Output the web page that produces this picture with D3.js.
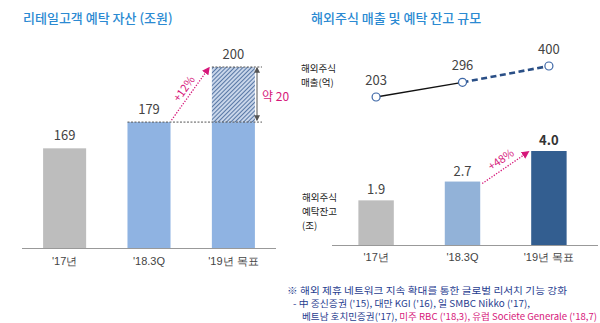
<!DOCTYPE html>
<html><head><meta charset="utf-8">
<script src="https://cdn.jsdelivr.net/npm/d3@7/dist/d3.min.js"></script>
<style>
body{margin:0;background:#fff;}
svg{display:block;font-family:"Noto Sans CJK KR","Noto Sans",sans-serif;}
</style></head><body>
<svg id="c" width="600" height="323"></svg>
<script>
const leftCategories = ["'17년", "'18.3Q", "'19년 목표"];
const leftValues = [169, 179, 200];
const rightCategories = ["'17년", "'18.3Q", "'19년 목표"];
const salesValues = [203, 296, 400];
const depositValues = [1.9, 2.7, 4.0];
const depositLabels = ["1.9", "2.7", "4.0"];

const svg = d3.select("#c");
const blueTitle = "#2b8ad2";
const magenta = "#d6177a";

const defs = svg.append("defs");
const pat = defs.append("pattern").attr("id","hatch").attr("patternUnits","userSpaceOnUse")
  .attr("width",3).attr("height",3).attr("patternTransform","rotate(45)");
pat.append("rect").attr("width",3).attr("height",3).attr("fill","#c9d6ea");
pat.append("line").attr("x1",0).attr("y1",0).attr("x2",0).attr("y2",3).attr("stroke","#3a5f93").attr("stroke-width",1.6);
function marker(id,color){
  defs.append("marker").attr("id",id).attr("viewBox","0 0 10 10").attr("refX",8).attr("refY",5)
   .attr("markerWidth",6).attr("markerHeight",6).attr("orient","auto-start-reverse")
   .append("path").attr("d","M0,0L10,5L0,10z").attr("fill",color);
}
marker("mag",magenta); marker("gry","#555");

svg.append("text").attr("x",23).attr("y",23).attr("font-size",13).attr("fill",blueTitle).attr("font-weight",500).text("리테일고객 예탁 자산 (조원)");
svg.append("text").attr("x",311).attr("y",23).attr("font-size",13).attr("fill",blueTitle).attr("font-weight",500).text("해외주식 매출 및 예탁 잔고 규모");

// ---- Left chart
const xL = d3.scaleBand().domain(leftCategories).range([22,276]).paddingInner(0.49).paddingOuter(0.25);
const yL = d3.scaleLinear().domain([131,200]).range([248,67]);
const leftColors = ["#bdbdbd","#8fb3e2","#8fb3e2"];
const gL = svg.append("g");
gL.selectAll("rect.b").data(leftValues).join("rect").attr("class","b")
  .attr("x",(d,i)=>xL(leftCategories[i])).attr("width",xL.bandwidth())
  .attr("y",(d,i)=> i===2 ? yL(leftValues[1]) : yL(d))
  .attr("height",(d,i)=> 248 - (i===2 ? yL(leftValues[1]) : yL(d)))
  .attr("fill",(d,i)=>leftColors[i]);
gL.append("rect").attr("x",xL(leftCategories[2])).attr("width",xL.bandwidth())
  .attr("y",yL(leftValues[2])).attr("height",yL(leftValues[1])-yL(leftValues[2]))
  .attr("fill","url(#hatch)");
gL.append("line").attr("x1",xL(leftCategories[1])).attr("x2",262).attr("y1",yL(leftValues[1])).attr("y2",yL(leftValues[1]))
  .attr("stroke","#555").attr("stroke-width",1).attr("stroke-dasharray","2,1.5");
gL.append("line").attr("x1",xL(leftCategories[2])).attr("x2",262).attr("y1",yL(leftValues[2])).attr("y2",yL(leftValues[2]))
  .attr("stroke","#555").attr("stroke-width",1).attr("stroke-dasharray","2,1.5");
const axL = d3.axisBottom(xL).tickSize(0).tickPadding(9);
const axLg = svg.append("g").attr("transform","translate(0,248)").call(axL);
axLg.select(".domain").attr("stroke","#999").attr("d","M22,0.5H276");
axLg.selectAll("text").attr("font-size",11).attr("fill","#444").attr("font-family","inherit");
gL.selectAll("text.v").data(leftValues).join("text").attr("class","v")
  .attr("x",(d,i)=>xL(leftCategories[i])+xL.bandwidth()/2).attr("y",d=>yL(d)-8)
  .attr("text-anchor","middle").attr("font-size",13).attr("fill","#444").text(d=>d);
const ax1 = xL(leftCategories[1])+xL.bandwidth()+1, ay1 = yL(leftValues[1])-2;
const ax2 = xL(leftCategories[2])-3, ay2 = yL(leftValues[2])+1;
gL.append("line").attr("x1",ax1).attr("y1",ay1).attr("x2",ax2).attr("y2",ay2)
  .attr("stroke",magenta).attr("stroke-width",1.3).attr("stroke-dasharray","1.3,1.5").attr("marker-end","url(#mag)");
const ang1 = Math.atan2(ay2-ay1, ax2-ax1)*180/Math.PI;
gL.append("text").attr("transform",`translate(${(ax1+ax2)/2-3},${(ay1+ay2)/2-3}) rotate(${ang1})`)
  .attr("text-anchor","middle").attr("font-size",11).attr("fill",magenta).text("+12%");
gL.append("line").attr("x1",257).attr("x2",257).attr("y1",yL(leftValues[2])+1).attr("y2",yL(leftValues[1])-2)
  .attr("stroke","#555").attr("stroke-width",1).attr("marker-start","url(#gry)").attr("marker-end","url(#gry)");
gL.append("text").attr("x",262).attr("y",101).attr("font-size",12).attr("fill",magenta).text("약 20");

// ---- Right chart
const xR = d3.scaleBand().domain(rightCategories).range([329,596]).paddingInner(0.59).paddingOuter(0.34);
const yR = d3.scaleLinear().domain([0,4]).range([245,151]);
const yS = d3.scaleLinear().domain([203,400]).range([97,66]);
const rightColors = ["#bdbdbd","#92b2d8","#335e90"];
const gR = svg.append("g");
gR.selectAll("rect").data(depositValues).join("rect")
  .attr("x",(d,i)=>xR(rightCategories[i])).attr("width",xR.bandwidth())
  .attr("y",d=>yR(d)).attr("height",d=>245-yR(d)).attr("fill",(d,i)=>rightColors[i]);
const axR = d3.axisBottom(xR).tickSize(0).tickPadding(8);
const axRg = svg.append("g").attr("transform","translate(0,245)").call(axR);
axRg.select(".domain").attr("stroke","#999").attr("d","M332,0.5H598");
axRg.selectAll("text").attr("font-size",11).attr("fill","#444").attr("font-family","inherit");
gR.selectAll("text.v").data(depositValues).join("text").attr("class","v")
  .attr("x",(d,i)=>xR(rightCategories[i])+xR.bandwidth()/2).attr("y",d=>yR(d)-6)
  .attr("text-anchor","middle").attr("font-size",13).attr("fill",(d,i)=>i===2?"#333":"#444")
  .attr("font-weight",(d,i)=>i===2?700:400).text((d,i)=>depositLabels[i]);
const bx1 = xR(rightCategories[1])+xR.bandwidth()+2, by1 = yR(depositValues[1])+2;
const bx2 = xR(rightCategories[2])-3, by2 = yR(depositValues[2])+1;
gR.append("line").attr("x1",bx1).attr("y1",by1).attr("x2",bx2).attr("y2",by2)
  .attr("stroke",magenta).attr("stroke-width",1.3).attr("stroke-dasharray","1.3,1.5").attr("marker-end","url(#mag)");
const ang2 = Math.atan2(by2-by1, bx2-bx1)*180/Math.PI;
gR.append("text").attr("transform",`translate(${(bx1+bx2)/2-2},${(by1+by2)/2-5}) rotate(${ang2})`)
  .attr("text-anchor","middle").attr("font-size",11).attr("fill",magenta).text("+48%");
const px = (i)=>xR(rightCategories[i])+xR.bandwidth()/2;
gR.append("line").attr("x1",px(0)).attr("y1",yS(salesValues[0])).attr("x2",px(1)).attr("y2",yS(salesValues[1]))
  .attr("stroke","#111").attr("stroke-width",1.3);
gR.append("line").attr("x1",px(1)).attr("y1",yS(salesValues[1])).attr("x2",px(2)).attr("y2",yS(salesValues[2]))
  .attr("stroke","#2a4f86").attr("stroke-width",2.6).attr("stroke-dasharray","6,3.5");
gR.selectAll("circle").data(salesValues).join("circle")
  .attr("cx",(d,i)=>px(i)).attr("cy",d=>yS(d)).attr("r",4)
  .attr("fill","#fff").attr("stroke","#3c66a6").attr("stroke-width",1.2);
gR.selectAll("text.s").data(salesValues).join("text").attr("class","s")
  .attr("x",(d,i)=>px(i)).attr("y",d=>yS(d)-12).attr("text-anchor","middle")
  .attr("font-size",13).attr("fill","#444").text(d=>d);
function multi(x,y,lines,lh){
  lines.forEach((l,i)=>svg.append("text").attr("x",x).attr("y",y+i*lh).attr("font-size",9.5).attr("fill","#222").text(l));
}
multi(301,71.5,["해외주식","매출(억)"],14);
multi(302,200.5,["해외주식","예탁잔고","(조)"],14);

// footnote
const navy = "#1f3d8f";
const fn = svg.append("g").attr("font-size",9.4);
fn.append("text").attr("x",287).attr("y",294).attr("fill",navy)
  .attr("textLength",280).attr("lengthAdjust","spacingAndGlyphs")
  .text("※ 해외 제휴 네트워크 지속 확대를 통한 글로벌 리서치 기능 강화");
fn.append("text").attr("x",293).attr("y",307).attr("fill",navy)
  .attr("textLength",237).attr("lengthAdjust","spacingAndGlyphs")
  .text("-  中 중신증권 ('15), 대만 KGI ('16), 일 SMBC Nikko ('17),");
const l3 = fn.append("text").attr("x",302).attr("y",320).attr("fill",navy)
  .attr("textLength",295).attr("lengthAdjust","spacingAndGlyphs");
l3.append("tspan").text("베트남 호치민증권('17), ");
l3.append("tspan").attr("fill",magenta).text("미주 RBC ('18,3), 유럽 Societe Generale ('18,7)");
</script></body></html>
